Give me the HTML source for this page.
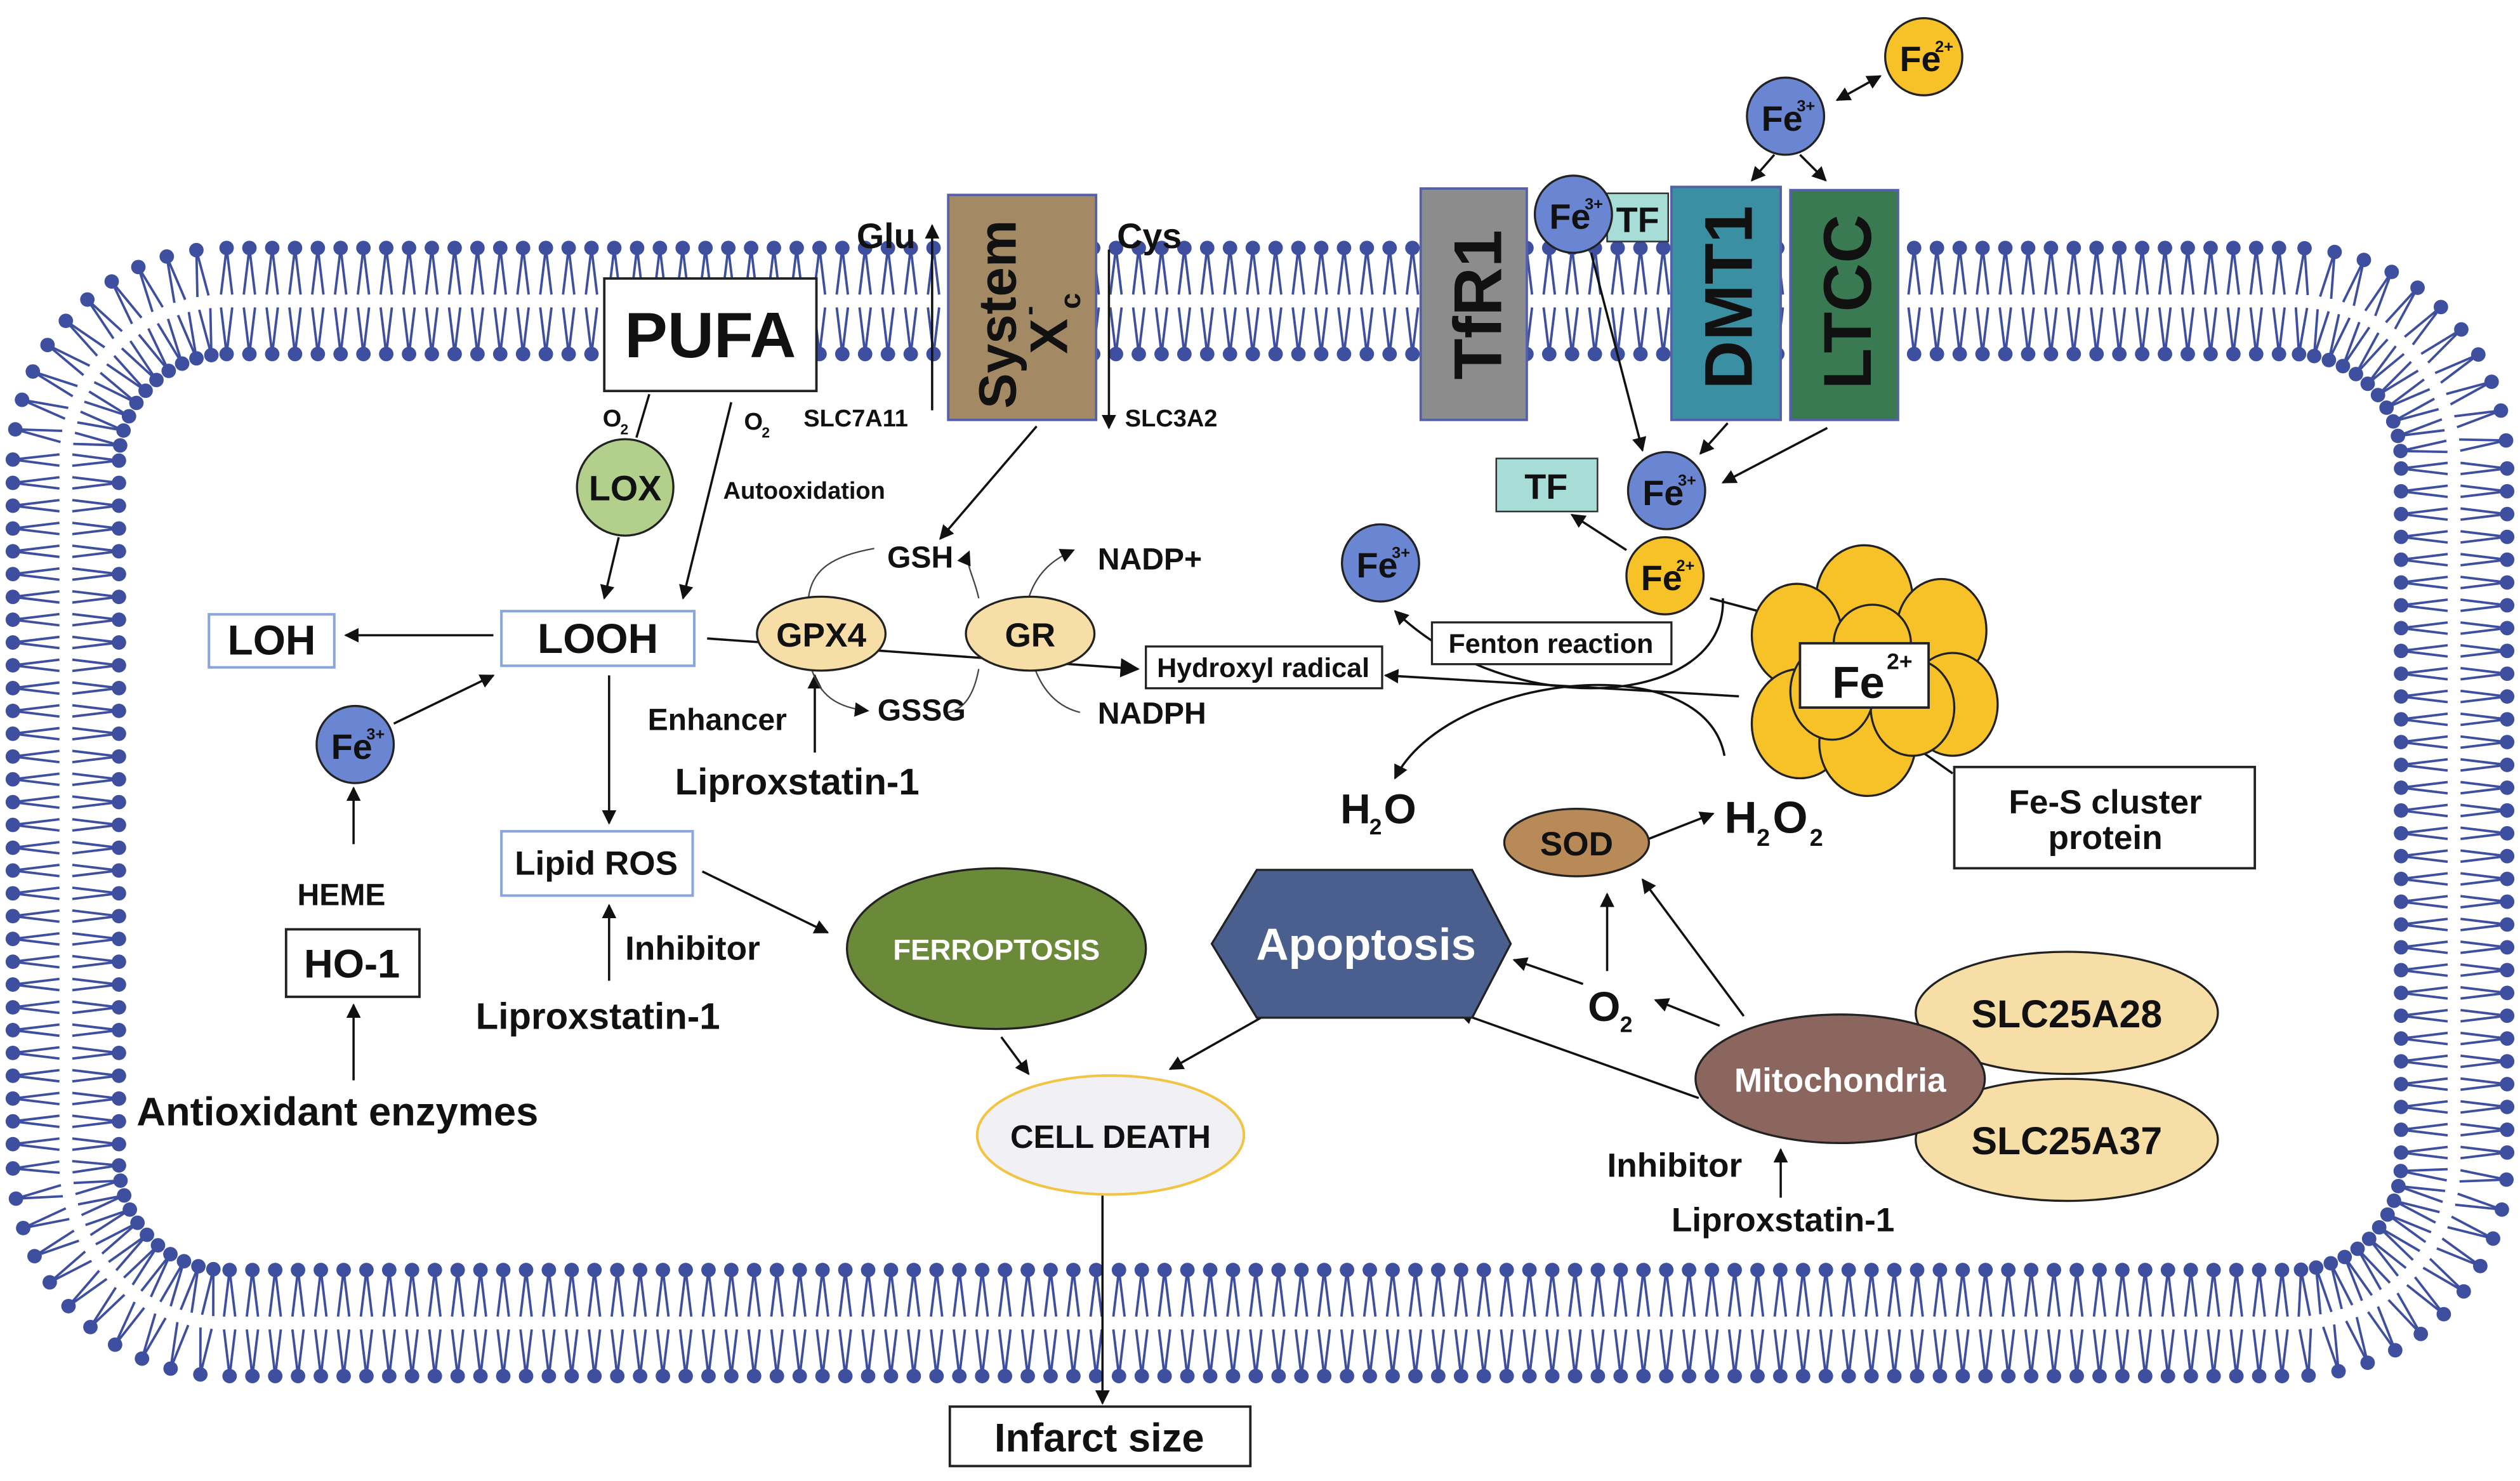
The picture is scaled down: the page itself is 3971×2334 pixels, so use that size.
<!DOCTYPE html>
<html><head><meta charset="utf-8">
<style>
html,body{margin:0;padding:0;background:#fff;}
svg{display:block;}
text{font-family:"Liberation Sans Narrow","Liberation Sans",sans-serif;font-weight:bold;fill:#111;}
.w{font-family:"Liberation Sans",sans-serif;}
</style></head><body>
<svg id="s" width="3971" height="2334" viewBox="0 0 1568 921" xmlns="http://www.w3.org/2000/svg">
<defs>
<marker id="a" viewBox="0 0 10 10" refX="9" refY="5" markerWidth="9" markerHeight="9" markerUnits="userSpaceOnUse" orient="auto-start-reverse"><path d="M0,0 L10,5 L0,10 z" fill="#111"/></marker>
<marker id="b" viewBox="0 0 10 10" refX="9" refY="5" markerWidth="12" markerHeight="12" markerUnits="userSpaceOnUse" orient="auto-start-reverse"><path d="M0,0 L10,5 L0,10 z" fill="#111"/></marker>
</defs>
<g id="mem"></g>

<g stroke="#111" stroke-width="1.4" fill="none">
<line x1="580" y1="255" x2="580" y2="140" marker-end="url(#a)"/>
<line x1="690" y1="155" x2="690" y2="266" marker-end="url(#a)"/>
<line x1="1143" y1="62" x2="1170" y2="47" marker-start="url(#a)" marker-end="url(#a)"/>
<line x1="1104" y1="96" x2="1090" y2="112" marker-end="url(#a)"/>
<line x1="1120" y1="96" x2="1136" y2="112" marker-end="url(#a)"/>
<line x1="990" y1="157" x2="1022" y2="280" marker-end="url(#a)"/>
<line x1="1075" y1="263" x2="1058" y2="282" marker-end="url(#a)"/>
<line x1="1137" y1="266" x2="1072" y2="300" marker-end="url(#a)"/>
<line x1="1012" y1="342" x2="978" y2="320" marker-end="url(#a)"/>
<line x1="1064" y1="372" x2="1113" y2="385" marker-end="url(#b)"/>
<line x1="1215" y1="481" x2="1188" y2="462" marker-end="url(#a)"/>
<path d="M1072,372 C1075,440 940,450 868,380" marker-end="url(#a)"/>
<path d="M1082,433 L862,420" marker-end="url(#a)"/>
<path d="M1073,470 C1060,400 900,420 868,484" marker-end="url(#a)"/>
<line x1="1020" y1="524" x2="1066" y2="506" marker-end="url(#a)"/>
<line x1="1000" y1="604" x2="1000" y2="556" marker-end="url(#a)"/>
<line x1="1085" y1="632" x2="1022" y2="547" marker-end="url(#a)"/>
<line x1="1070" y1="638" x2="1030" y2="622" marker-end="url(#a)"/>
<line x1="985" y1="612" x2="942" y2="597" marker-end="url(#a)"/>
<line x1="1057" y1="683" x2="908" y2="630" marker-end="url(#a)"/>
<line x1="1108" y1="745" x2="1108" y2="715" marker-end="url(#a)"/>
<line x1="623" y1="645" x2="640" y2="668" marker-end="url(#a)"/>
<line x1="790" y1="630" x2="728" y2="665" marker-end="url(#a)"/>
<line x1="686" y1="720" x2="686" y2="873" marker-end="url(#a)"/>
<line x1="645" y1="265" x2="585" y2="335" marker-end="url(#a)"/>
<line x1="440" y1="397" x2="708" y2="416" marker-end="url(#b)"/>
<line x1="307" y1="395" x2="215" y2="395" marker-end="url(#a)"/>
<line x1="404" y1="245" x2="396" y2="272"/>
<line x1="385" y1="334" x2="376" y2="372" marker-end="url(#a)"/>
<line x1="455" y1="250" x2="425" y2="372" marker-end="url(#a)"/>
<line x1="379" y1="420" x2="379" y2="512" marker-end="url(#a)"/>
<line x1="437" y1="542" x2="515" y2="580" marker-end="url(#a)"/>
<line x1="379" y1="610" x2="379" y2="563" marker-end="url(#a)"/>
<line x1="245" y1="450" x2="307" y2="420" marker-end="url(#a)"/>
<line x1="220" y1="525" x2="220" y2="490" marker-end="url(#a)"/>
<line x1="220" y1="672" x2="220" y2="625" marker-end="url(#a)"/>
<line x1="507" y1="468" x2="507" y2="420" marker-end="url(#a)"/>
</g>
<g stroke="#444" stroke-width="0.9" fill="none">
<path d="M503,372 C505,356 515,346 544,341"/>
<path d="M609,372 C606,358 600,350 603,343" marker-end="url(#a)"/>
<path d="M640,372 C645,356 655,348 668,342" marker-end="url(#a)"/>
<path d="M505,416 C510,432 520,440 540,442" marker-end="url(#a)"/>
<path d="M609,416 C606,432 600,441 590,443"/>
<path d="M644,416 C650,432 660,440 672,443"/>
</g>

<rect x="376" y="173" width="132" height="70" fill="#fff" stroke="#222" stroke-width="1.5"/>
<text x="442" y="222" font-size="40" text-anchor="middle" class="w">PUFA</text>
<rect x="590" y="121" width="92" height="140" fill="#a48a64" stroke="#5560a8" stroke-width="1.5"/>
<text transform="translate(632,254) rotate(-90)" font-size="33" class="w">System</text>
<text transform="translate(664,220) rotate(-90)" font-size="33" class="w">X</text>
<text transform="translate(672,192) rotate(-90)" font-size="18" class="w">c</text>
<text transform="translate(646,196) rotate(-90)" font-size="18" class="w">-</text>
<text x="533" y="154" font-size="22" class="w">Glu</text>
<text x="695" y="154" font-size="22" class="w">Cys</text>
<text x="500" y="265" font-size="15" class="w">SLC7A11</text>
<text x="700" y="265" font-size="15" class="w">SLC3A2</text>
<rect x="884" y="117" width="66" height="144" fill="#8c8c8c" stroke="#5560a8" stroke-width="1.5"/>
<text transform="translate(934,236) rotate(-90)" font-size="42" class="w">TfR1</text>
<rect x="1040" y="116" width="68" height="145" fill="#3a90a2" stroke="#5560a8" stroke-width="1.5"/>
<text transform="translate(1090,242) rotate(-90)" font-size="42" class="w">DMT1</text>
<rect x="1114" y="118" width="67" height="143" fill="#3a7a52" stroke="#5560a8" stroke-width="1.5"/>
<text transform="translate(1164,242) rotate(-90)" font-size="42" class="w">LTCC</text>
<rect x="1000" y="120" width="38" height="30" fill="#a8dcd6" stroke="#333"/>
<text x="1019" y="144" font-size="22" text-anchor="middle">TF</text>

<g id="ions"></g>

<g fill="#f7c227" stroke="#222" stroke-width="1.3">
<ellipse cx="1160" cy="372" rx="30" ry="33"/>
<ellipse cx="1208" cy="392" rx="28" ry="32"/>
<ellipse cx="1215" cy="438" rx="28" ry="32"/>
<ellipse cx="1118" cy="395" rx="28" ry="32"/>
<ellipse cx="1120" cy="450" rx="30" ry="34"/>
<ellipse cx="1162" cy="462" rx="30" ry="33"/>
<ellipse cx="1190" cy="440" rx="26" ry="30"/>
<ellipse cx="1140" cy="430" rx="26" ry="30"/>
<ellipse cx="1165" cy="400" rx="24" ry="24"/>
</g>
<rect x="1120" y="400" width="80" height="40" fill="#fff" stroke="#222" stroke-width="1.5"/>
<text x="1140" y="434" font-size="28">Fe</text>
<text x="1174" y="416" font-size="14">2+</text>

<rect x="931" y="285" width="63" height="33" fill="#a8dcd6" stroke="#333"/>
<text x="962" y="310" font-size="22" text-anchor="middle">TF</text>
<rect x="891" y="387" width="149" height="26" fill="#fff" stroke="#222" stroke-width="1.3"/>
<text x="965" y="406" font-size="17" text-anchor="middle">Fenton reaction</text>
<rect x="713" y="402" width="147" height="26" fill="#fff" stroke="#222" stroke-width="1.3"/>
<text x="786" y="421" font-size="17" text-anchor="middle">Hydroxyl radical</text>
<text x="834" y="512" font-size="26">H</text><text x="852" y="519" font-size="14">2</text><text x="861" y="512" font-size="26">O</text>
<text x="1073" y="518" font-size="28">H</text><text x="1093" y="526" font-size="15">2</text><text x="1103" y="518" font-size="28">O</text><text x="1126" y="526" font-size="15">2</text>
<rect x="1216" y="477" width="187" height="63" fill="#fff" stroke="#222" stroke-width="1.5"/>
<text x="1310" y="506" font-size="21" text-anchor="middle">Fe-S cluster</text>
<text x="1310" y="528" font-size="21" text-anchor="middle">protein</text>
<ellipse cx="981" cy="524" rx="45" ry="21" fill="#b88a58" stroke="#222" stroke-width="1.3"/>
<text x="981" y="532" font-size="21" text-anchor="middle">SOD</text>
<polygon points="754,587 782,541 916,541 940,587 916,633 782,633" fill="#4b5f8e" stroke="#222" stroke-width="1.3"/>
<text x="850" y="597" font-size="28" text-anchor="middle" style="fill:#fff">Apoptosis</text>
<text x="988" y="635" font-size="26">O</text><text x="1008" y="642" font-size="14">2</text>
<ellipse cx="1286" cy="630" rx="94" ry="38" fill="#f6dea6" stroke="#222" stroke-width="1.3"/>
<ellipse cx="1286" cy="709" rx="94" ry="38" fill="#f6dea6" stroke="#222" stroke-width="1.3"/>
<ellipse cx="1145" cy="671" rx="90" ry="40" fill="#8a665e" stroke="#222" stroke-width="1.3"/>
<text x="1145" y="679" font-size="21" text-anchor="middle" style="fill:#fff">Mitochondria</text>
<text x="1286" y="639" font-size="24" text-anchor="middle">SLC25A28</text>
<text x="1286" y="718" font-size="24" text-anchor="middle">SLC25A37</text>
<text x="1000" y="732" font-size="21">Inhibitor</text>
<text x="1040" y="766" font-size="21">Liproxstatin-1</text>
<ellipse cx="620" cy="590" rx="93" ry="50" fill="#6a8a3a" stroke="#222" stroke-width="1.3"/>
<text x="620" y="597" font-size="18" text-anchor="middle" class="w" style="fill:#fff">FERROPTOSIS</text>
<ellipse cx="691" cy="706" rx="83" ry="37" fill="#f1f1f5" stroke="#f2c444" stroke-width="1.6"/>
<text x="691" y="714" font-size="20" text-anchor="middle" class="w">CELL DEATH</text>
<rect x="591" y="875" width="187" height="37" fill="#fff" stroke="#222" stroke-width="1.5"/>
<text x="684" y="903" font-size="25" text-anchor="middle" class="w">Infarct size</text>

<ellipse cx="389" cy="303" rx="30" ry="30" fill="#b2cf8c" stroke="#222" stroke-width="1.3"/>
<text x="389" y="311" font-size="22" text-anchor="middle">LOX</text>
<text x="375" y="265" font-size="15">O</text><text x="386" y="270" font-size="9">2</text>
<text x="463" y="267" font-size="15">O</text><text x="474" y="272" font-size="9">2</text>
<text x="450" y="310" font-size="15" class="w">Autooxidation</text>
<rect x="312" y="380" width="120" height="34" fill="#fff" stroke="#8aa6dc" stroke-width="1.6"/>
<text x="372" y="406" font-size="26" text-anchor="middle" class="w">LOOH</text>
<rect x="130" y="382" width="78" height="33" fill="#fff" stroke="#8aa6dc" stroke-width="1.6"/>
<text x="169" y="407" font-size="26" text-anchor="middle" class="w">LOH</text>
<rect x="312" y="517" width="119" height="40" fill="#fff" stroke="#8aa6dc" stroke-width="1.6"/>
<text x="371" y="544" font-size="21" text-anchor="middle" class="w">Lipid ROS</text>
<text x="389" y="597" font-size="21" class="w">Inhibitor</text>
<text x="296" y="640" font-size="23" class="w">Liproxstatin-1</text>
<text x="185" y="563" font-size="19" class="w">HEME</text>
<rect x="178" y="578" width="83" height="42" fill="#fff" stroke="#222" stroke-width="1.5"/>
<text x="219" y="608" font-size="25" text-anchor="middle" class="w">HO-1</text>
<text x="85" y="700" font-size="25" class="w">Antioxidant enzymes</text>
<ellipse cx="511" cy="394" rx="40" ry="23" fill="#f6dea6" stroke="#222" stroke-width="1.3"/>
<text x="511" y="402" font-size="21" text-anchor="middle">GPX4</text>
<ellipse cx="641" cy="394" rx="40" ry="23" fill="#f6dea6" stroke="#222" stroke-width="1.3"/>
<text x="641" y="402" font-size="21" text-anchor="middle">GR</text>
<text x="403" y="454" font-size="19" class="w">Enhancer</text>
<text x="420" y="494" font-size="23" class="w">Liproxstatin-1</text>
<text x="552" y="353" font-size="19" class="w">GSH</text>
<text x="683" y="354" font-size="19" class="w">NADP+</text>
<text x="546" y="448" font-size="19" class="w">GSSG</text>
<text x="683" y="450" font-size="19" class="w">NADPH</text>
</svg>
<script>
(function(){
var g=document.getElementById("mem");
var x0=41,x1=1527,y0=187,y1=823,r=100;
var L1=x1-x0-2*r,L2=y1-y0-2*r,A=Math.PI*r/2;
var P=2*L1+2*L2+4*A;
function pt(s){
 s=((s%P)+P)%P;
 if(s<L1)return[x0+r+s,y0,0,-1];s-=L1;
 if(s<A){var t=-Math.PI/2+s/r;return[x1-r+r*Math.cos(t),y0+r+r*Math.sin(t),Math.cos(t),Math.sin(t)];}s-=A;
 if(s<L2)return[x1,y0+r+s,1,0];s-=L2;
 if(s<A){var t=s/r;return[x1-r+r*Math.cos(t),y1-r+r*Math.sin(t),Math.cos(t),Math.sin(t)];}s-=A;
 if(s<L1)return[x1-r-s,y1,0,1];s-=L1;
 if(s<A){var t=Math.PI/2+s/r;return[x0+r+r*Math.cos(t),y1-r+r*Math.sin(t),Math.cos(t),Math.sin(t)];}s-=A;
 if(s<L2)return[x0,y1-r-s,-1,0];s-=L2;
 var t=Math.PI+s/r;return[x0+r+r*Math.cos(t),y0+r+r*Math.sin(t),Math.cos(t),Math.sin(t)];
}
var n=Math.round(P/14.2),ds=P/n,h="";
for(var i=0;i<n;i++){
 var p=pt(i*ds),x=p[0],y=p[1],nx=p[2],ny=p[3],tx=-ny,ty=nx;
 [1,-1].forEach(function(sg){
  var hx=x+nx*33*sg,hy=y+ny*33*sg;
  var ex=x+nx*4*sg,ey=y+ny*4*sg;
  h+='<line x1="'+hx+'" y1="'+hy+'" x2="'+(ex+tx*3.5)+'" y2="'+(ey+ty*3.5)+'"/>';
  h+='<line x1="'+hx+'" y1="'+hy+'" x2="'+(ex-tx*3.5)+'" y2="'+(ey-ty*3.5)+'"/>';
  h+='<circle cx="'+hx+'" cy="'+hy+'" r="4.5" stroke="none"/>';
 });
}
g.setAttribute("stroke","#3d4f9e");g.setAttribute("stroke-width","1.5");g.setAttribute("fill","#3d4f9e");
g.innerHTML=h;
var ions=[[979,133,"3+"],[1111,72,"3+"],[1197,35,"2+"],[1037,305,"3+"],[1036,358,"2+"],[859,350,"3+"],[221,463,"3+"]];
var s="";
ions.forEach(function(o){
 var c=o[2]=="2+"?"#f7c227":"#6a86d2";
 s+='<circle cx="'+o[0]+'" cy="'+o[1]+'" r="24" fill="'+c+'" stroke="#222" stroke-width="1.3"/>';
 s+='<text x="'+(o[0]-15)+'" y="'+(o[1]+9)+'" font-size="22">Fe</text>';
 s+='<text x="'+(o[0]+7)+'" y="'+(o[1]-3)+'" font-size="10">'+o[2]+'</text>';
});
document.getElementById("ions").innerHTML=s;
})();
</script>
</body></html>
